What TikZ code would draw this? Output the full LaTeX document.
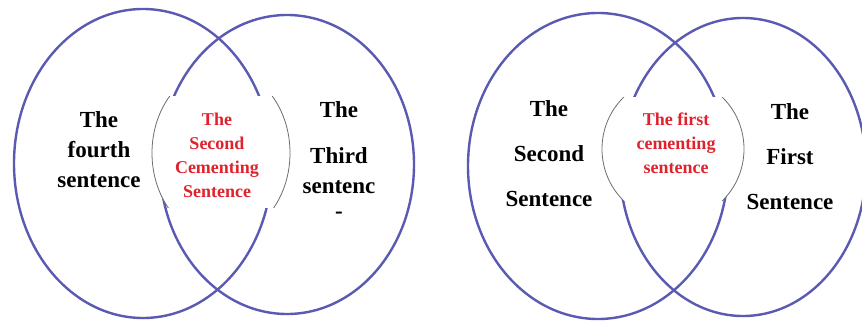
\documentclass[tikz,border=0pt]{standalone}
\usepackage{fontspec}
\setmainfont{Liberation Serif}
\newfontfamily\timesfont{Liberation Serif}
\usepackage{tikz}
\usetikzlibrary{shapes.geometric,positioning}
\definecolor{Ring}{HTML}{5A5AB2}
\definecolor{Cement}{HTML}{E0222C}
\definecolor{Rim}{HTML}{6A6E6C}

\begin{document}
\begin{tikzpicture}[x=1pt, y=-1pt]
\tikzset{ring/.style={ellipse, draw=Ring, line width=2.4pt, inner sep=0pt}, lbl/.style={align=center, font=\timesfont\fontsize{23}{30}\selectfont\bfseries}, lblwide/.style={lbl, font=\timesfont\fontsize{23}{45}\selectfont\bfseries}, cem/.style={align=center, text=Cement, font=\timesfont\fontsize{18}{24}\selectfont\bfseries}, lens/.style={fill=white, draw=Rim, line width=.8pt}}
\useasboundingbox (0,0) rectangle (862,326);
\clip (0,0) rectangle (862,326);
% left pair of sentences
\node[ring, minimum width=258pt, minimum height=309pt] (fourth) at (143,163.5) {};
\node[ring, minimum width=254pt, minimum height=299pt] (third) at (287,164.5) {};
\begin{scope}
\clip (140,97) rectangle (300,207);
\path[lens] (221,153) ellipse [x radius=69pt, y radius=85pt];
\end{scope}
% right pair of sentences
\node[ring, minimum width=260pt, minimum height=306pt] (second) at (598,166) {};
\node[ring, minimum width=246pt, minimum height=298pt] (first) at (743,167) {};
\begin{scope}
\clip (590,98) rectangle (760,200);
\path[lens] (673,149) ellipse [x radius=71pt, y radius=72pt];
\end{scope}
% labels
\node[lbl] (fourthtxt) at (99,150) {The\\fourth\\sentence};
\node[cem] (cemtwo) at (217,155) {The\\Second\\Cementing\\Sentence};
\node[lbl] (thirdtxt) at (339,160) {The\\[16pt]Third\\sentenc\\[-5pt]-};
\node[lblwide] (secondtxt) at (549,154) {The\\Second\\Sentence};
\node[cem] (cemone) at (676,143) {The first\\cementing\\sentence};
\node[lblwide] (firsttxt) at (790,157) {The\\First\\Sentence};
\end{tikzpicture}
\end{document}
